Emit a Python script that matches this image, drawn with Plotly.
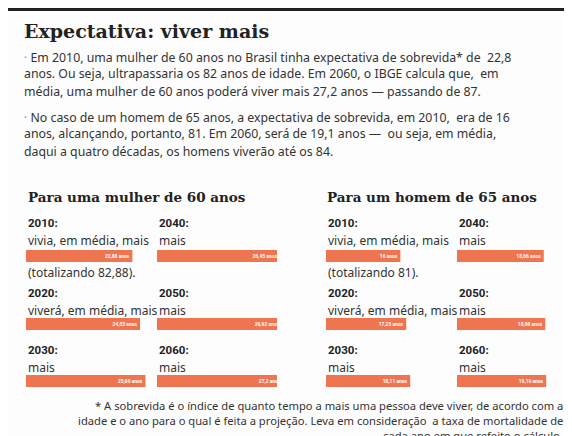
import plotly.graph_objects as go

W, H = 572, 436

years_left = ["2010", "2020", "2030"]
years_right = ["2040", "2050", "2060"]
mulher = [22.88, 24.53, 25.69, 26.45, 26.92, 27.2]
homem = [16, 17.25, 18.11, 18.66, 18.98, 19.19]
frases_mulher = ["vivia, em média, mais", "viverá, em média, mais", "mais", "mais", "mais", "mais"]
frases_homem = ["vivia, em média, mais", "viverá, em média, mais", "mais", "mais", "mais", "mais"]
total_mulher = "(totalizando 82,88)."
total_homem = "(totalizando 81)."

ORANGE = "#ef7551"
TXT = "#333333"


def px(x):
    return x / W


def py(y):
    return 1 - y / H


fig = go.Figure()
annots = []


def note(x, y, text, size=12, color=TXT, family="Noto Sans", anchor="left"):
    annots.append(dict(x=px(x), y=py(y), xref="paper", yref="paper", text=text,
                       showarrow=False, xanchor=anchor, yanchor="middle",
                       font=dict(size=size, color=color, family=family)))


note(14, 23, "<b>Expectativa: viver mais</b>", 19, "#222", "DejaVu Serif")
par = ['<span style="color:%s">·</span> Em 2010, uma mulher de 60 anos no Brasil tinha expectativa de sobrevida* de  22,8' % ORANGE,
       "anos. Ou seja, ultrapassaria os 82 anos de idade. Em 2060, o IBGE calcula que,  em",
       "média, uma mulher de 60 anos poderá viver mais 27,2 anos — passando de 87.",
       '<span style="color:%s">·</span> No caso de um homem de 65 anos, a expectativa de sobrevida, em 2010,  era de 16' % ORANGE,
       "anos, alcançando, portanto, 81. Em 2060, será de 19,1 anos —  ou seja, em média,",
       "daqui a quatro décadas, os homens viverão até os 84."]
for i, t in enumerate(par):
    y = [49, 66, 83, 109, 126, 143][i]
    note(14, y, t, 12.3)

note(18, 189, "<b>Para uma mulher de 60 anos</b>", 13.5, "#222", "DejaVu Serif")
note(317, 189, "<b>Para um homem de 65 anos</b>", 13.5, "#222", "DejaVu Serif")

foot = ["* A sobrevida é o índice de quanto tempo a mais uma pessoa deve viver, de acordo com a",
        "idade e o ano para o qual é feita a projeção. Leva em consideração  a taxa de mortalidade de",
        "cada ano em que refeito o cálculo."]
for i, t in enumerate(foot):
    note(557, 397 + 15 * i, t, 11.2, anchor="right")

row_year_y = [215, 285, 342]
row_bar_y = [248, 316, 373]
col_x = [18, 149, 318, 449]
scale = 4.65  # px per year
panel_w = 120

years = years_left + years_right
n = 0
for g, (vals, frases, total) in enumerate([(mulher, frases_mulher, total_mulher),
                                            (homem, frases_homem, total_homem)]):
    for k in range(6):
        col = col_x[g * 2 + k // 3]
        row = k % 3
        n += 1
        xa = "x" if n == 1 else "x%d" % n
        ya = "y" if n == 1 else "y%d" % n
        yc = row_bar_y[row]
        fig.add_trace(go.Bar(
            x=[vals[k]], y=[0], orientation="h", xaxis=xa, yaxis=ya,
            marker=dict(color=ORANGE, line=dict(width=0)), width=1,
            text=["<b>%s anos</b>" % ("%g" % vals[k]).replace(".", ",")],
            textposition="inside", insidetextanchor="end",
            textfont=dict(color="white", size=11.5, family="Roboto"),
            hoverinfo="skip", showlegend=False))
        suffix = "" if n == 1 else str(n)
        fig.update_layout({
            "xaxis" + suffix: dict(domain=[px(col), px(col + panel_w)], range=[0, panel_w / scale],
                                   visible=False, fixedrange=True, anchor=ya),
            "yaxis" + suffix: dict(domain=[py(yc + 6), py(yc - 6)], range=[-0.5, 0.5],
                                   visible=False, fixedrange=True, anchor=xa),
        })
        note(col, row_year_y[row], "<b>%s:</b>" % years[k], 11.5, "#222", "Roboto")
        note(col, row_year_y[row] + 17, frases[k], 12)
        if k == 0:
            note(col, 264, total, 12)

fig.update_layout(
    width=W, height=H, margin=dict(l=0, r=0, t=0, b=0),
    paper_bgcolor="#fdfdfd", plot_bgcolor="rgba(0,0,0,0)",
    annotations=annots, uniformtext=dict(mode=False),
    shapes=[dict(type="line", xref="paper", yref="paper", x0=0, x1=1, y0=py(1.5), y1=py(1.5),
                 line=dict(color="#222", width=3)),
            dict(type="line", xref="paper", yref="paper", x0=0, x1=1, y0=py(434), y1=py(434),
                 line=dict(color="#222", width=3))],
)
fig.write_html("out.html")
